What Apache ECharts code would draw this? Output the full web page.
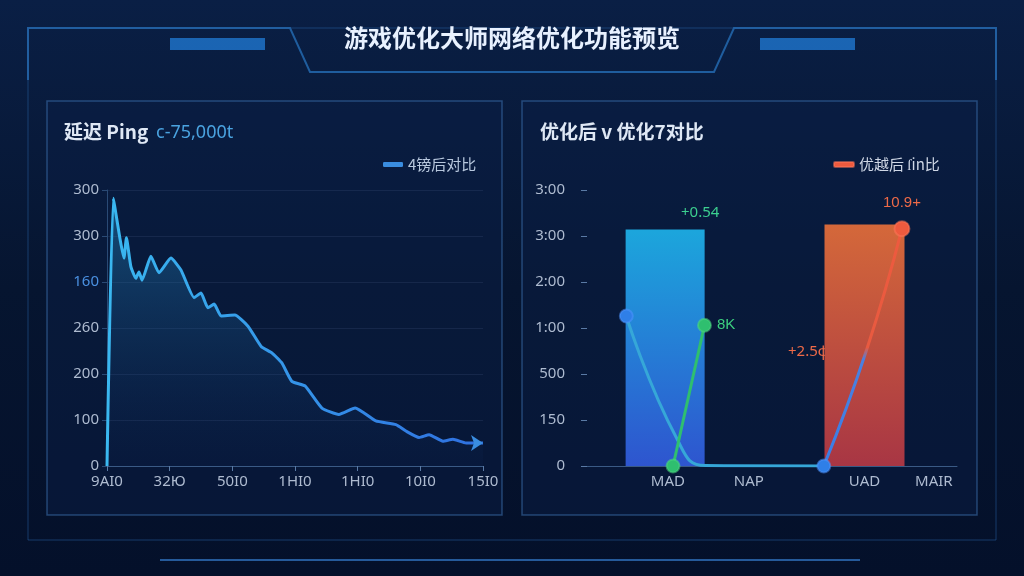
<!DOCTYPE html>
<html>
<head>
<meta charset="utf-8">
<script src="https://cdn.jsdelivr.net/npm/echarts@6/dist/echarts.min.js"></script>
<style>
  html, body { margin: 0; padding: 0; background: #05122a; }
  #chart { width: 1024px; height: 576px; }
</style>
</head>
<body>
<div id="chart"></div>
<script>
'use strict';
// 左图：延迟曲线 [x, y]
let pingLabels = ['9AI0', '32Ю', '50I0', '1HI0', '1HI0', '10I0', '15I0'];
let pingYLabels = ['0', '100', '200', '260', '160', '300', '300'];
let pingData = [
    [0, 0], [0.10, 291], [0.21, 246], [0.27, 226], [0.31, 248], [0.38, 217], [0.46, 204],
    [0.51, 211], [0.56, 202], [0.70, 228], [0.83, 210], [1.02, 226], [1.18, 213],
    [1.39, 183], [1.50, 188], [1.61, 172], [1.71, 176], [1.82, 163], [2.04, 164],
    [2.25, 152], [2.46, 130], [2.63, 123], [2.79, 112], [2.95, 92], [3.16, 87],
    [3.43, 63], [3.70, 56], [3.96, 63], [4.29, 49], [4.61, 45], [4.77, 38],
    [4.98, 31], [5.14, 34], [5.36, 27], [5.52, 29], [5.73, 25], [6.0, 25],
];

// 右图：对比
let cmpXLabels = {1.75: 'MAD', 3.5: 'NAP', 6: 'UAD', 7.5: 'MAIR'};
let cmpYLabels = ['0', '150', '500', '1:00', '2:00', '3:00', '3:00'];
let barBlue = [[1.7, 5.14]];
let barRed = [[6.0, 5.25]];
let lineBlue = [[0.85, 3.26], [1.95, 0.58], [2.56, 0.01], [5.12, 0]];
let lineRed = [[5.12, 0], [6.05, 2.54], [6.81, 5.16]];
let lineGreen = [[1.86, 0], [2.54, 3.06]];

let myChart = echarts.init(document.getElementById('chart'));
let lg = echarts.graphic.LinearGradient;

let axisTxt = {color: '#aebbd0', fontSize: 15, fontFamily: 'Noto Sans'};
let splitL = {show: true, lineStyle: {color: 'rgba(120,150,200,0.12)'}};

pingData[pingData.length - 1] = {
    value: pingData[pingData.length - 1], symbol: 'arrow', symbolSize: 12, symbolRotate: -90,
};

let option = {
    backgroundColor: new lg(0, 0, 0, 1, [
        {offset: 0, color: '#0a1f45'}, {offset: 0.5, color: '#061530'}, {offset: 1, color: '#04102a'},
    ]),
    graphic: [
        // 外框
        {type: 'polyline', shape: {points: [[28, 80], [28, 28], [290, 28], [310, 72], [714, 72], [734, 28], [996, 28], [996, 80]]},
            style: {stroke: '#1f5d9e', lineWidth: 2, fill: 'none'}},
        {type: 'rect', shape: {x: 28, y: 28, width: 968, height: 512}, style: {stroke: 'rgba(40,100,170,0.5)', fill: 'none', lineWidth: 1}},
        {type: 'text', left: 'center', top: 26, style: {text: '游戏优化大师网络优化功能预览', fill: '#e8f1ff', font: 'bold 24px "Noto Sans CJK SC"'}},
        {type: 'rect', shape: {x: 170, y: 38, width: 95, height: 12}, style: {fill: '#1f77d0', opacity: 0.8}},
        {type: 'rect', shape: {x: 760, y: 38, width: 95, height: 12}, style: {fill: '#1f77d0', opacity: 0.8}},
        // 面板
        {type: 'rect', shape: {x: 47, y: 101, width: 455, height: 414}, style: {stroke: 'rgba(70,130,200,0.45)', fill: 'rgba(10,30,70,0.45)', lineWidth: 1.5}},
        {type: 'rect', shape: {x: 522, y: 101, width: 455, height: 414}, style: {stroke: 'rgba(70,130,200,0.45)', fill: 'rgba(10,30,70,0.45)', lineWidth: 1.5}},
        {type: 'text', left: 64, top: 122, style: {text: '延迟 Ping', fill: '#dfe8f5', font: 'bold 19px "Noto Sans CJK SC"'}},
        {type: 'text', left: 156, top: 124, style: {text: 'c-75,000t', fill: '#4aa3e0', font: '18px "Noto Sans"'}},
        {type: 'text', left: 540, top: 122, style: {text: '优化后 v 优化7对比', fill: '#dfe8f5', font: 'bold 19px "Noto Sans CJK SC"'}},
        {type: 'text', left: 681, top: 205, style: {text: '+0.54', fill: '#3ccf8f', font: '15px "Noto Sans"'}},
        {type: 'text', left: 788, top: 344, style: {text: '+2.5ф', fill: '#ee6a48', font: '15px "Noto Sans"'}},
        {type: 'line', shape: {x1: 160, y1: 560, x2: 860, y2: 560}, style: {stroke: 'rgba(60,140,230,0.6)', lineWidth: 2}},
    ],
    legend: [
        {data: ['4镑后对比'], left: 378, top: 152, itemWidth: 20, itemHeight: 5, icon: 'roundRect',
            textStyle: {color: '#b8c8de', fontSize: 15, fontFamily: 'Noto Sans CJK SC'}},
        {data: ['优越后 ſin比'], left: 828, top: 152, itemWidth: 20, itemHeight: 5, icon: 'roundRect',
            textStyle: {color: '#d0d8e6', fontSize: 15, fontFamily: 'Noto Sans CJK SC'}},
    ],
    grid: [
        {left: 107, top: 190, width: 376, height: 276},
        {left: 587, top: 190, width: 370, height: 276},
    ],
    xAxis: [
        {type: 'value', gridIndex: 0, min: 0, max: 6, interval: 1, splitLine: {show: false},
            axisLine: {lineStyle: {color: '#3a5a85'}}, axisTick: {show: true, lineStyle: {color: '#5a7aa5'}},
            axisLabel: Object.assign({formatter: (v) => pingLabels[Math.round(v)]}, axisTxt)},
        {type: 'value', gridIndex: 1, min: 0, max: 8, interval: 0.25, splitLine: {show: false},
            axisLine: {lineStyle: {color: '#3a5a85'}}, axisTick: {show: false},
            axisLabel: Object.assign({interval: 0, formatter: (v) => cmpXLabels[v] || ''}, axisTxt)},
    ],
    yAxis: [
        {type: 'value', gridIndex: 0, min: 0, max: 300, interval: 50, splitLine: splitL,
            axisLine: {show: true, lineStyle: {color: '#2a4a75'}},
            axisLabel: Object.assign({}, axisTxt, {formatter: (v) => pingYLabels[v / 50],
                color: (v) => (v == 200 ? '#4a90e0' : '#aebbd0')})},
        {type: 'value', gridIndex: 1, min: 0, max: 6, interval: 1, splitLine: {show: false},
            axisTick: {show: true, length: 6, lineStyle: {color: '#5a7aa5'}},
            axisLine: {show: false},
            axisLabel: Object.assign({}, axisTxt, {margin: 22, formatter: (v) => cmpYLabels[v]})},
    ],
    series: [
        {name: '4镑后对比', type: 'line', xAxisIndex: 0, yAxisIndex: 0, data: pingData, showSymbol: true,
            symbol: 'none', smooth: 0.15, color: '#3a8de0',
            lineStyle: {width: 3, color: new lg(0, 0, 1, 0, [{offset: 0, color: '#3ab8f0'}, {offset: 1, color: '#2f6fe0'}])},
            areaStyle: {color: new lg(0, 0, 0, 1, [{offset: 0, color: 'rgba(40,160,220,0.55)'}, {offset: 1, color: 'rgba(20,50,110,0.1)'}])}},
        {type: 'bar', xAxisIndex: 1, yAxisIndex: 1, data: barBlue, barWidth: 79,
            itemStyle: {color: new lg(0, 0, 0, 1, [{offset: 0, color: '#1ca6dc'}, {offset: 1, color: '#2e55cf'}])}},
        {type: 'bar', xAxisIndex: 1, yAxisIndex: 1, data: barRed, barWidth: 80, barGap: '-100%',
            itemStyle: {color: new lg(0, 0, 0, 1, [{offset: 0, color: '#d4683a'}, {offset: 1, color: '#a83644'}])}},
        {type: 'line', xAxisIndex: 1, yAxisIndex: 1, data: lineBlue, smooth: true, symbol: 'circle',
            symbolSize: (v, p) => (p.dataIndex === 0 || p.dataIndex === 3 ? 13 : 0),
            lineStyle: {width: 3, color: '#36a7d8'},
            itemStyle: {color: '#2f7fe8', borderColor: 'rgba(80,150,255,0.5)', borderWidth: 2}},
        {name: '优越后 ſin比', type: 'line', xAxisIndex: 1, yAxisIndex: 1, data: lineRed, smooth: true,
            color: '#e0573e', symbol: 'circle', symbolSize: (v, p) => (p.dataIndex === 2 ? 15 : 0),
            lineStyle: {width: 3, color: new lg(0, 1, 0, 0, [{offset: 0, color: '#3a7ee6'}, {offset: 0.45, color: '#4a80e0'}, {offset: 0.5, color: '#e85a40'}, {offset: 1, color: '#ee5a3e'}])},
            itemStyle: {color: '#ee5a3e', borderColor: 'rgba(255,120,90,0.5)', borderWidth: 2},
            label: {show: true, fontSize: 15, color: '#ee6a48',
                formatter: (p) => (p.dataIndex === 2 ? '10.9+' : ''),
                position: 'top', distance: 10}},
        {type: 'line', xAxisIndex: 1, yAxisIndex: 1, data: lineGreen, smooth: true, symbol: 'circle', symbolSize: 13,
            color: '#2fbf6f', lineStyle: {width: 3, color: '#2fbf6f'},
            itemStyle: {color: '#2fbf6f', borderColor: 'rgba(80,220,130,0.5)', borderWidth: 2},
            label: {show: true, color: '#3ccf7f', fontSize: 15, position: 'right',
                formatter: (p) => (p.dataIndex === 1 ? '8K' : '')}},
    ],
};
myChart.setOption(option);
</script>
</body>
</html>
